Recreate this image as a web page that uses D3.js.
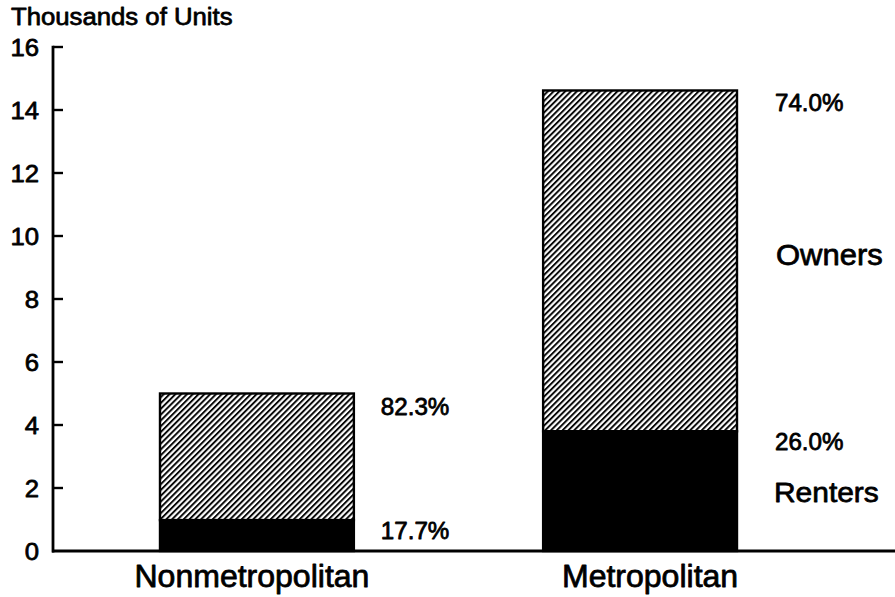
<!DOCTYPE html>
<html><head><meta charset="utf-8">
<script src="https://cdn.jsdelivr.net/npm/d3@7"></script>
<style>html,body{margin:0;padding:0;background:#fff;}svg{display:block;}</style>
</head><body>
<svg id="c" width="895" height="597"></svg>
<script>
const categories = ["Nonmetropolitan", "Metropolitan"];
const renters = [0.98, 3.8];
const owners = [4.02, 10.82];
const renterPct = ["17.7%", "26.0%"];
const ownerPct = ["82.3%", "74.0%"];
const yTicks = [0, 2, 4, 6, 8, 10, 12, 14, 16];
const yTitle = "Thousands of Units";
const seriesNames = ["Owners", "Renters"];

const svg = d3.select("#c");
const FONT = "'Liberation Sans', Arial, Helvetica, sans-serif";
const SX = 1.05;

const y = d3.scaleLinear().domain([0, 16]).range([551, 47]);
const x = d3.scaleBand().domain(categories).range([160, 737]).paddingInner(0.494).paddingOuter(0);

function txt(xp, yp, s, size, anchor) {
  const g = svg.append("g").attr("transform", `translate(${xp},${yp}) scale(${SX},1)`);
  g.append("text").attr("x", 0).attr("y", 0).attr("text-anchor", anchor || "start")
    .attr("font-family", FONT).attr("font-size", size).attr("fill", "#000")
    .attr("stroke", "#000").attr("stroke-width", 0.75).attr("stroke-linejoin", "round").text(s);
  return g;
}

// hatch pattern
const defs = svg.append("defs");
const pat = defs.append("pattern").attr("id", "hatch").attr("patternUnits", "userSpaceOnUse")
  .attr("width", 4.1).attr("height", 4.1).attr("patternTransform", "rotate(45)");
pat.append("rect").attr("width", 4.1).attr("height", 4.1).attr("fill", "#fff");
pat.append("line").attr("x1", 1).attr("y1", 0).attr("x2", 1).attr("y2", 4.1)
  .attr("stroke", "#000").attr("stroke-width", 1.9);

// bars
const bars = svg.append("g");
categories.forEach((c, i) => {
  const x0 = x(c), w = x.bandwidth();
  const total = renters[i] + owners[i];
  bars.append("rect").attr("x", x0).attr("y", y(total)).attr("width", w)
    .attr("height", y(renters[i]) - y(total)).attr("fill", "url(#hatch)")
    .attr("stroke", "#000").attr("stroke-width", 2.4);
  bars.append("rect").attr("x", x0).attr("y", y(renters[i])).attr("width", w)
    .attr("height", y(0) - y(renters[i])).attr("fill", "#000")
    .attr("stroke", "#000").attr("stroke-width", 2.4);
  const lx = x0 + w + (i === 0 ? 27 : 38);
  txt(lx, y(total) + 21, ownerPct[i], 23, "start");
  txt(lx, y(renters[i]) + 19, renterPct[i], 23, "start");
});

// y axis
const ax = svg.append("g");
ax.append("line").attr("x1", 53).attr("x2", 53).attr("y1", y(16) - 1.2).attr("y2", y(0) + 1.5)
  .attr("stroke", "#000").attr("stroke-width", 2.8);
yTicks.forEach(t => {
  if (t > 0) ax.append("line").attr("x1", 53).attr("x2", 63).attr("y1", y(t)).attr("y2", y(t))
    .attr("stroke", "#000").attr("stroke-width", 2.4);
  txt(39, y(t) + 8.5, String(t), 24.5, "end");
});
// x axis
ax.append("line").attr("x1", 52).attr("x2", 895).attr("y1", y(0)).attr("y2", y(0))
  .attr("stroke", "#000").attr("stroke-width", 3);

// category labels
categories.forEach((c, i) => {
  txt(x(c) + x.bandwidth() / 2 + (i === 0 ? -5 : 10), 587, c, 30.5, "middle");
});

// title
txt(11, 25, yTitle, 24.5, "start");

// series labels
txt(776, 265, seriesNames[0], 29.5, "start");
txt(774, 502, seriesNames[1], 28.5, "start");
</script>
</body></html>
